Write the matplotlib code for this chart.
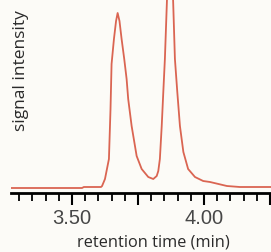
import numpy as np
import matplotlib
matplotlib.use("Agg")
import matplotlib.pyplot as plt
from matplotlib.ticker import MultipleLocator, FuncFormatter

# chromatogram: retention time (min) and signal (arb. units)
time = [3.265, 3.538, 3.545, 3.610, 3.614, 3.625, 3.640, 3.646, 3.650, 3.659,
        3.667, 3.673, 3.680, 3.688, 3.698, 3.707, 3.713, 3.726, 3.745, 3.764,
        3.789, 3.808, 3.821, 3.827, 3.833, 3.840, 3.846, 3.852, 3.860, 3.866,
        3.871, 3.877, 3.883, 3.890, 3.899, 3.909, 3.922, 3.940, 3.966, 3.997,
        4.023, 4.087, 4.136, 4.260]
signal = [0, 0, 1, 1, 2, 9, 29, 79, 124, 149,
          167, 175, 167, 149, 129, 109, 89, 62, 32, 19,
          11, 9, 12, 17, 29, 62, 96, 129, 189, 220,
          235, 220, 189, 129, 96, 62, 36, 19, 11, 7,
          6, 2, 1, 1]

major_ticks = [3.50, 4.00]

bg = "#fcfbf7"
fig = plt.figure(figsize=(2.71, 2.53), dpi=100, facecolor=bg)
ax = fig.add_axes([11/271, 59/253, 260/271, 194/253], facecolor=bg)

ax.plot(time, signal, color="#da6552", lw=1.3)
ax.set_xlim(3.269, 4.254)
ax.set_ylim(-5, 189)

for s in ["left", "top", "right"]:
    ax.spines[s].set_visible(False)
ax.spines["bottom"].set_linewidth(2.0)
ax.set_yticks([])

ax.xaxis.set_major_locator(MultipleLocator(0.25))
ax.xaxis.set_minor_locator(MultipleLocator(0.05))
ax.xaxis.set_major_formatter(FuncFormatter(
    lambda v, p: "%.2f" % v if any(abs(v - m) < 1e-6 for m in major_ticks) else ""))
ax.tick_params(axis="x", which="major", direction="out", length=8.5, width=1.5,
               labelsize=14.5, labelcolor="#474747", pad=2)
ax.tick_params(axis="x", which="minor", direction="out", length=5.5, width=1.3)
for lab in ax.get_xticklabels():
    lab.set_family("Liberation Sans")

fig.text(0.566, 0.04, "retention time (min)", ha="center", va="center",
         fontsize=11.8, family="Open Sans", color="#2a2a2a")
fig.text(0.077, 0.723, "signal intensity", ha="center", va="center", rotation=90,
         fontsize=12.5, family="Open Sans", color="#2a2a2a")

fig.savefig("out.png", dpi=100, facecolor=bg)
